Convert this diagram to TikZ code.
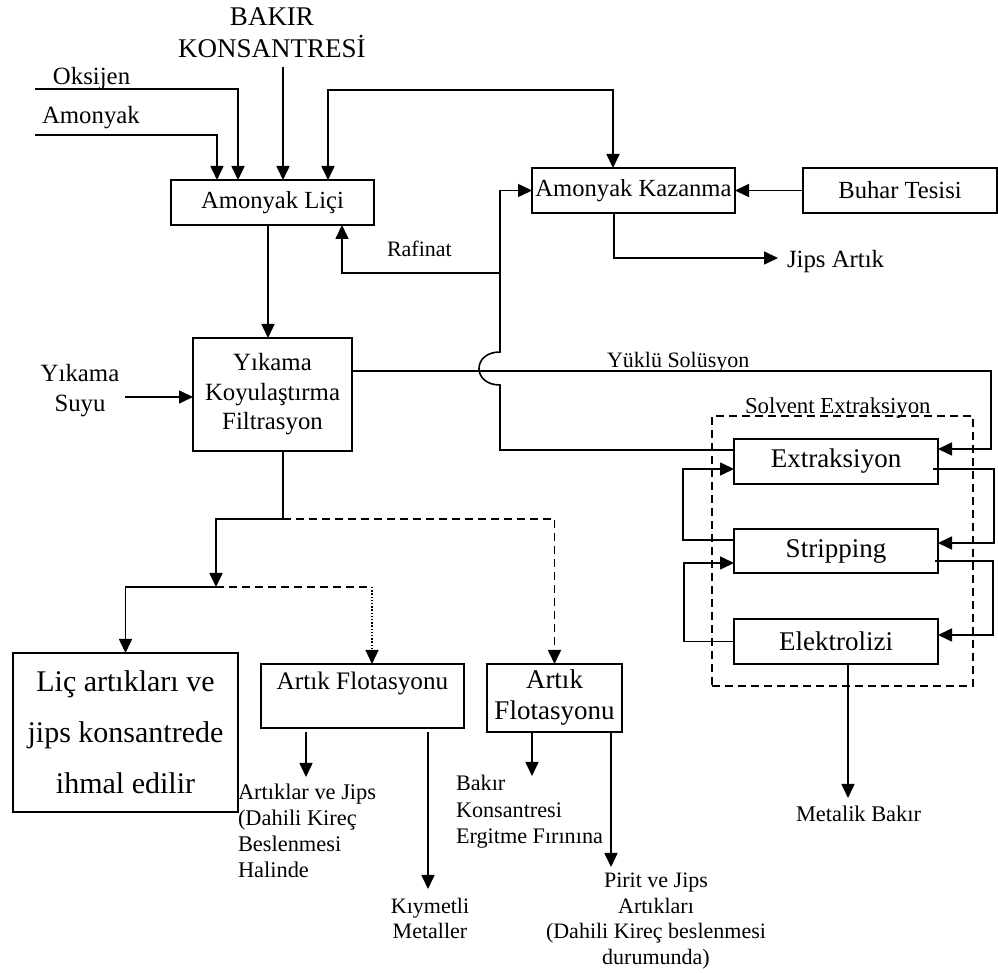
\documentclass[tikz,border=0pt]{standalone}
\usepackage{fontspec}
\setmainfont{Liberation Serif}
\usetikzlibrary{arrows.meta,calc}
\begin{document}
\begin{tikzpicture}[x=0.5pt,y=-0.5pt,
  line/.style={line width=0.8pt},
  arr/.style={line width=0.8pt,-{Triangle[length=7pt,width=6.5pt]}},
  box/.style={draw,line width=1pt,inner sep=0pt,outer sep=0pt,align=center},
  lbl/.style={inner sep=0pt,outer sep=0pt},
  dsh/.style={dash pattern=on 4pt off 2.5pt},
  dts/.style={line width=0.6pt,dash pattern=on 0.7pt off 0.9pt},
]
\useasboundingbox (0,0) rectangle (998,973);

% ---------- process units ----------
\node[box,minimum width=101.5pt,minimum height=22.5pt,font=\fontsize{12.3}{14}\selectfont] (lic) at (272.5,202.5) {Amonyak Liçi};
\node[box,minimum width=101.5pt,minimum height=22.5pt,font=\fontsize{12.3}{14}\selectfont] (kaz) at (633.5,190.5) {Amonyak Kazanma};
\node[box,minimum width=97pt,minimum height=22.5pt,font=\fontsize{12.3}{14}\selectfont] (buhar) at (900,190.5) {Buhar Tesisi};
\node[box,minimum width=79.5pt,minimum height=56.5pt,font=\fontsize{12.4}{14.75}\selectfont] (yik) at (272.5,394.5) {Yıkama\\Koyulaştırma\\Filtrasyon};

% solvent extraction circuit
\node[draw,line width=0.8pt,dsh,inner sep=0pt,minimum width=130.5pt,minimum height=135pt] (sx) at (842.5,551) {};
\node[box,minimum width=102pt,minimum height=22.5pt,font=\fontsize{13.5}{15}\selectfont] (ext) at (836,461.5) {Extraksiyon};
\node[box,minimum width=102pt,minimum height=22pt,font=\fontsize{13.5}{15}\selectfont] (str) at (836,551) {Stripping};
\node[box,minimum width=102pt,minimum height=22.5pt,font=\fontsize{13.5}{15}\selectfont] (elk) at (836,641.5) {Elektrolizi};
\node[lbl,anchor=base west,font=\fontsize{11.4}{13}\selectfont] (sxl) at (745,414) {Solvent Extraksiyon};

% residue treatment
\node[box,minimum width=112.5pt,minimum height=79.5pt,font=\fontsize{15}{25.5}\selectfont] (licart) at (125.5,732.5) {Liç artıkları ve\\jips konsantrede\\ihmal edilir};
\node[box,minimum width=101.5pt,minimum height=32pt,font=\fontsize{12.6}{15}\selectfont] (af1) at (362.5,696) {Artık Flotasyonu\\\mbox{}};
\node[box,minimum width=67.5pt,minimum height=34pt,font=\fontsize{13.5}{15.5}\selectfont] (af2) at (554.5,698) {Artık\\Flotasyonu};

% ---------- stream labels ----------
\node[lbl,align=center,font=\fontsize{13.5}{16}\selectfont] (bakir) at (272,33) {BAKIR\\KONSANTRESİ};
\node[lbl,anchor=base west,font=\fontsize{12.4}{14}\selectfont] (oks) at (53,85) {Oksijen};
\node[lbl,anchor=base west,font=\fontsize{12.4}{14}\selectfont] (amo) at (42,124) {Amonyak};
\node[lbl,anchor=base west,font=\fontsize{11}{13}\selectfont] (raf) at (387,257) {Rafinat};
\node[lbl,anchor=base west,font=\fontsize{12.4}{14}\selectfont] (jips) at (787,268) {Jips Artık};
\node[lbl,anchor=base west,font=\fontsize{11}{13}\selectfont] (yuk) at (607,368) {Yüklü Solüsyon};
\node[lbl,align=center,font=\fontsize{12.4}{15}\selectfont] (ysu) at (80,391) {Yıkama\\Suyu};
\node[lbl,anchor=base west,font=\fontsize{11.2}{13}\selectfont] (mb) at (796,821) {Metalik Bakır};
\node[lbl,anchor=west,align=left,font=\fontsize{11.2}{13}\selectfont] (aj) at (238,831) {Artıklar ve Jips\\(Dahili Kireç\\Beslenmesi\\Halinde};
\node[lbl,align=center,font=\fontsize{11}{12.5}\selectfont] (km) at (430,918) {Kıymetli\\Metaller};
\node[lbl,anchor=west,align=left,font=\fontsize{11.1}{13.25}\selectfont] (bk) at (456,812) {Bakır\\Konsantresi\\Ergitme Fırınına};
\node[lbl,align=center,font=\fontsize{11}{12.85}\selectfont] (pj) at (656,921) {Pirit ve Jips\\Artıkları\\(Dahili Kireç beslenmesi\\durumunda)};

% ---------- feeds to ammonia leach ----------
\coordinate (oksin) at (35,89);
\coordinate (amoin) at (35,135);
\coordinate (bkin) at (283,67);
\coordinate (nh3top) at (470,90);
\draw[arr] (oksin) -| ($(lic.north west)+(67,0)$);
\draw[arr] (amoin) -| ($(lic.north west)+(46,0)$);
\draw[arr] (bkin) -- (bkin |- lic.north);
\draw[line,{Triangle[length=7pt,width=6.5pt]}-{Triangle[length=7pt,width=6.5pt]}]
  ($(lic.north west)+(157,0)$) |- (nh3top) -| ($(kaz.north)+(-20.5,0)$);
\draw[arr] ($(lic.south)+(-4.5,0)$) -- ($(yik.north)+(-4.5,0)$);

% ---------- ammonia recovery ----------
\coordinate (jipsin) at (778,258);
\draw[arr] (buhar.west) -- (kaz.east);
\draw[arr] ($(kaz.south)+(-19.5,0)$) |- (jipsin);

% ---------- raffinate return (with hop over the loaded solution) ----------
\coordinate (rfb) at (500,450);
\coordinate (hopb) at (500,385);
\coordinate (hopt) at (500,352);
\coordinate (rfj) at (500,273);
\draw[line] ($(ext.west)+(0,-11.5)$) -- (rfb) -- (hopb)
  .. controls +(-28,0) and +(-28,0) .. (hopt) -- (rfj);
\draw[arr] (rfj) -| ($(lic.south)+(69.5,0)$);
\draw[arr] (rfj) |- (kaz.west);

% ---------- loaded solution and wash water ----------
\draw[arr] ($(yik.east)+(0,-23.5)$) -| ($(ext.east)+(53,-12.5)$) -- ($(ext.east)+(0,-12.5)$);
\coordinate (ysin) at (125,397);
\draw[arr] (ysin) -- (ysin -| yik.west);

% ---------- solvent extraction loops ----------
\draw[arr] ($(ext.east)+(-5,7.5)$) -| ($(str.east)+(56,-8)$) -- ($(str.east)+(0,-8)$);
\draw[arr] ($(str.east)+(-3,10)$) -| ($(elk.east)+(55,-6.5)$) -- ($(elk.east)+(0,-6.5)$);
\draw[arr] ($(str.west)+(0,-11)$) -| ($(ext.west)+(-51,7.5)$) -- ($(ext.west)+(0,7.5)$);
\draw[arr] (elk.west) -| ($(str.west)+(-50,12)$) -- ($(str.west)+(0,12)$);
\coordinate (elkout) at ($(elk.south)+(12,0)$);
\draw[arr] (elkout) -- ++(0,134);

% ---------- residue routes ----------
\coordinate (s1) at (283,519);
\coordinate (j2) at (216,587);
\coordinate (j3) at (372,587);
\draw[line] ($(yik.south)+(10.5,0)$) -- (s1);
\draw[arr] (s1) -| (j2);
\draw[arr,dsh] (s1) -| (af2.north);
\draw[arr] (j2) -| (licart.north);
\draw[line,dsh] (j2) -- (j3);
\draw[arr,dts] (j3) -- (j3 |- af1.north);

\draw[arr] ($(af1.south west)+(45,4)$) -- ++(0,45);
\draw[arr] ($(af1.south west)+(167,4)$) -- ++(0,157);
\draw[arr] ($(af2.south west)+(45,0)$) -- ++(0,44);
\draw[arr] ($(af2.south west)+(124,0)$) -- ++(0,135);
\end{tikzpicture}
\end{document}
